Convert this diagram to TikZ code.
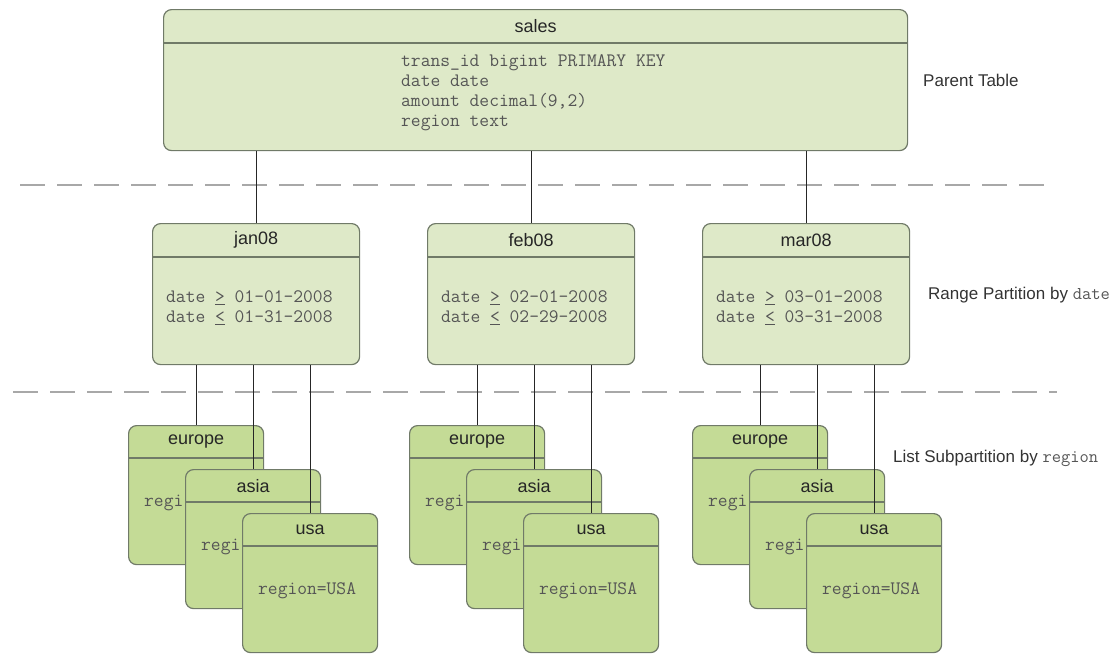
\documentclass[tikz,border=0pt]{standalone}
\usepackage{fontspec}
\setsansfont{Liberation Sans}
\usetikzlibrary{positioning}
\definecolor{tblfill}{RGB}{222,233,200}
\definecolor{subfill}{RGB}{196,219,150}
\definecolor{tblline}{RGB}{112,122,104}
\definecolor{sepline}{RGB}{168,168,168}
\definecolor{bodytext}{RGB}{85,85,85}
\newcommand{\geu}{\underline{>}}
\newcommand{\leu}{\underline{<}}
\tikzset{
  tbl/.style={rectangle, draw=tblline, fill=tblfill, line width=1.2pt, rounded corners=8pt, anchor=north west, inner sep=0},
  rangetbl/.style={tbl, minimum width=207pt, minimum height=141pt},
  subtbl/.style={tbl, fill=subfill, minimum width=135pt, minimum height=139pt},
  hdr/.style={draw=tblline, line width=1.2pt},
  ttl/.style={font=\sffamily\fontsize{18}{20}\selectfont, text=black!85},
  body/.style={font=\ttfamily\fontsize{19}{20}\selectfont, text=bodytext, align=left, anchor=west, inner sep=0},
  lbl/.style={font=\sffamily\fontsize{17}{20}\selectfont, text=black!80, anchor=west, inner sep=0},
  sep/.style={draw=sepline, line width=2.5pt, dash pattern=on 25pt off 12pt},
  link/.style={draw=black!85, line width=1.2pt}
}

\begin{document}
\begin{tikzpicture}[x=1pt, y=-1pt]
  \useasboundingbox (0,0) rectangle (1118,667);

  % separators between levels
  \draw[sep] (20,185) -- (1053,185);
  \draw[sep] (13,392) -- (1057,392);

  % parent table
  \node[tbl, minimum width=744pt, minimum height=141pt] (sales) at (163,9) {};
  \draw[hdr] ([yshift=-34pt]sales.north west) -- ([yshift=-34pt]sales.north east);
  \node[ttl] (salesttl) at ([yshift=-17pt]sales.north) {sales};
  \node[body] (salesbody) at (401,93) {trans\_id bigint PRIMARY KEY\\date date\\amount decimal(9,2)\\region text};
  \node[lbl] (parentlbl) at (923,80) {Parent Table};

  % range partitions
  \node[rangetbl] (jan08) at (152,223) {};
  \node[rangetbl] (feb08) at (427,223) {};
  \node[rangetbl] (mar08) at (702,223) {};
  \foreach \p in {jan08,feb08,mar08}{
    \draw[hdr] ([yshift=-34pt]\p.north west) -- ([yshift=-34pt]\p.north east);
    \node[ttl] at ([yshift=-17pt]\p.north) {\p};
  }
  \node[body] (janbody) at ([xshift=14pt,yshift=-85pt]jan08.north west) {date \geu{} 01-01-2008\\date \leu{} 01-31-2008};
  \node[body] (febbody) at ([xshift=14pt,yshift=-85pt]feb08.north west) {date \geu{} 02-01-2008\\date \leu{} 02-29-2008};
  \node[body] (marbody) at ([xshift=14pt,yshift=-85pt]mar08.north west) {date \geu{} 03-01-2008\\date \leu{} 03-31-2008};
  \node[lbl] (rangelbl) at (928,295) {Range Partition by {\ttfamily\fontsize{18}{18}\selectfont\color{bodytext}date}};

  % list subpartitions (europe and asia text is mostly hidden)
  \foreach \g/\x in {jan08/128, feb08/409, mar08/692}{
    \foreach \s/\dx/\dy/\v in {europe/0/0/regi, asia/57/44/regi, usa/114/88/region=USA}{
      \node[subtbl] (\s\g) at (\x+\dx,425+\dy) {};
      \draw[hdr] ([yshift=-33pt]\s\g.north west) -- ([yshift=-33pt]\s\g.north east);
      \node[ttl] at ([yshift=-17pt]\s\g.north) {\s};
      \node[body] at ([xshift=16pt,yshift=-78pt]\s\g.north west) {\v};
    }
  }
  \node[lbl] (listlbl) at (893,458) {List Subpartition by {\ttfamily\fontsize{18}{18}\selectfont\color{bodytext}region}};

  % links
  \foreach \p in {jan08,feb08,mar08}{
    \draw[link] (sales.south -| \p.north) -- (\p.north);
    \foreach \s in {europe,asia,usa}
      \draw[link] (\p.south -| \s\p.north) -- (\s\p.north);
  }
\end{tikzpicture}
\end{document}
